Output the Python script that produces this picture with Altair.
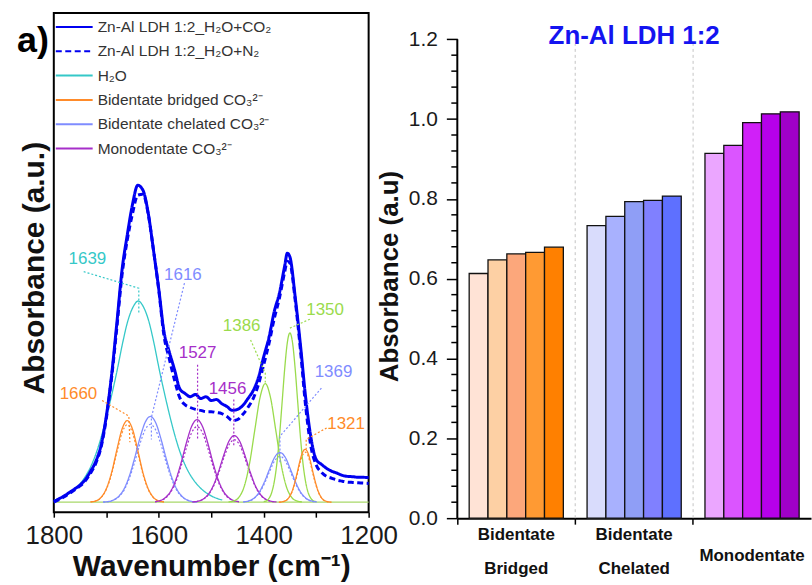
import altair as alt
import pandas as pd

FONT = "Liberation Sans"

# ---------------- Left panel: FTIR spectra ----------------
total_wn = [1800, 1790, 1780, 1770, 1760, 1750, 1740, 1730, 1720, 1710, 1700, 1690, 1680, 1670,
            1660, 1650, 1640, 1630, 1620, 1610, 1600, 1590, 1580, 1570, 1560, 1550, 1540, 1530,
            1520, 1510, 1500, 1490, 1480, 1470, 1460, 1450, 1440, 1430, 1420, 1410, 1400, 1390,
            1380, 1370, 1360, 1355, 1350, 1340, 1330, 1320, 1310, 1300, 1290, 1280, 1270, 1260,
            1250, 1240, 1230, 1220, 1210, 1200]
abs_co2 = [0.003, 0.011, 0.020, 0.031, 0.042, 0.054, 0.071, 0.097, 0.128, 0.178, 0.269, 0.397,
           0.559, 0.728, 0.838, 0.934, 0.994, 0.978, 0.906, 0.790, 0.669, 0.535, 0.472, 0.416,
           0.356, 0.341, 0.331, 0.338, 0.325, 0.331, 0.319, 0.322, 0.309, 0.300, 0.288, 0.291,
           0.303, 0.325, 0.350, 0.391, 0.456, 0.516, 0.597, 0.656, 0.741, 0.781, 0.769, 0.644,
           0.494, 0.328, 0.203, 0.134, 0.119, 0.106, 0.097, 0.091, 0.084, 0.081, 0.080, 0.078,
           0.078, 0.077]
abs_n2 = [0.000, 0.008, 0.017, 0.028, 0.039, 0.051, 0.067, 0.091, 0.122, 0.172, 0.262, 0.388,
          0.545, 0.712, 0.822, 0.905, 0.963, 0.966, 0.903, 0.790, 0.666, 0.522, 0.450, 0.384,
          0.328, 0.306, 0.297, 0.291, 0.288, 0.284, 0.284, 0.281, 0.278, 0.269, 0.256, 0.259,
          0.275, 0.297, 0.325, 0.369, 0.431, 0.497, 0.575, 0.640, 0.722, 0.756, 0.750, 0.634,
          0.478, 0.300, 0.175, 0.117, 0.094, 0.081, 0.075, 0.069, 0.066, 0.063, 0.062, 0.061,
          0.060, 0.059]

# fitted components, H2O+CO2 (solid) -- wavenumber, absorbance
h2o_1639_wn = [1799, 1789, 1779, 1769, 1759, 1749, 1739, 1729, 1719, 1709, 1699, 1689, 1679, 1669,
               1659, 1649, 1639, 1629, 1619, 1609, 1599, 1589, 1579, 1569, 1559, 1549, 1539, 1529,
               1519, 1509, 1499, 1489, 1479]
h2o_1639_a = [0.007, 0.012, 0.019, 0.029, 0.042, 0.060, 0.083, 0.114, 0.155, 0.208, 0.271, 0.341,
              0.416, 0.498, 0.568, 0.612, 0.631, 0.612, 0.568, 0.498, 0.416, 0.341, 0.271, 0.208,
              0.155, 0.114, 0.083, 0.060, 0.042, 0.029, 0.019, 0.012, 0.007]
bb_1660_wn = [1730, 1720, 1710, 1700, 1690, 1680, 1670, 1660, 1650, 1640, 1630, 1620, 1610, 1600, 1590]
bb_1660_a = [0.001, 0.004, 0.015, 0.042, 0.092, 0.163, 0.229, 0.256, 0.229, 0.163, 0.092, 0.042,
             0.015, 0.004, 0.001]
bc_1616_wn = [1706, 1696, 1686, 1676, 1666, 1656, 1646, 1636, 1626, 1616, 1606, 1596, 1586, 1576,
              1566, 1556, 1546, 1536, 1526]
bc_1616_a = [0.001, 0.002, 0.007, 0.019, 0.042, 0.082, 0.138, 0.200, 0.250, 0.269, 0.250, 0.200,
             0.138, 0.082, 0.042, 0.019, 0.007, 0.002, 0.001]
mono_1527_wn = [1607, 1597, 1587, 1577, 1567, 1557, 1547, 1537, 1527, 1517, 1507, 1497, 1487, 1477,
                1467, 1457, 1447]
mono_1527_a = [0.002, 0.005, 0.015, 0.035, 0.072, 0.126, 0.188, 0.239, 0.259, 0.239, 0.188, 0.126,
               0.072, 0.035, 0.015, 0.005, 0.002]
mono_1456_wn = [1536, 1526, 1516, 1506, 1496, 1486, 1476, 1466, 1456, 1446, 1436, 1426, 1416, 1406,
                1396, 1386, 1376]
mono_1456_a = [0.001, 0.003, 0.009, 0.024, 0.052, 0.096, 0.148, 0.192, 0.209, 0.192, 0.148, 0.096,
               0.052, 0.024, 0.009, 0.003, 0.001]
oth_1386_wn = [1467, 1457, 1447, 1437, 1427, 1417, 1407, 1397, 1387, 1377, 1367, 1357, 1347, 1337, 1327]
oth_1386_a = [0.001, 0.004, 0.016, 0.050, 0.121, 0.226, 0.328, 0.372, 0.328, 0.226, 0.121, 0.050,
              0.016, 0.004, 0.001]
oth_1350_wn = [1400, 1395, 1390, 1385, 1380, 1375, 1370, 1365, 1360, 1355, 1350, 1345, 1340, 1335,
               1330, 1325, 1320, 1315, 1310, 1305, 1300]
oth_1350_a = [0.002, 0.004, 0.012, 0.029, 0.063, 0.120, 0.205, 0.311, 0.418, 0.500, 0.531, 0.500,
              0.418, 0.311, 0.205, 0.120, 0.063, 0.029, 0.012, 0.004, 0.002]
bc_1369_wn = [1439, 1429, 1419, 1409, 1399, 1389, 1379, 1369, 1359, 1349, 1339, 1329, 1319, 1309, 1299]
bc_1369_a = [0.001, 0.004, 0.012, 0.030, 0.062, 0.103, 0.141, 0.156, 0.141, 0.103, 0.062, 0.030,
             0.012, 0.004, 0.001]
bb_1321_wn = [1371, 1361, 1356, 1351, 1346, 1341, 1336, 1331, 1326, 1321, 1316, 1311, 1306, 1301,
              1296, 1291, 1286, 1281, 1271]
bb_1321_a = [0.000, 0.003, 0.007, 0.017, 0.034, 0.060, 0.093, 0.129, 0.156, 0.166, 0.156, 0.129,
             0.093, 0.060, 0.034, 0.017, 0.007, 0.003, 0.000]

# fitted components, H2O+N2 (dotted) -- same wavenumbers as above
bb_1660_n2 = [0.001, 0.004, 0.014, 0.040, 0.087, 0.155, 0.217, 0.243, 0.217, 0.155, 0.087, 0.040,
              0.014, 0.004, 0.001]
bc_1616_n2 = [0.000, 0.002, 0.007, 0.017, 0.038, 0.075, 0.125, 0.182, 0.227, 0.244, 0.227, 0.182,
              0.125, 0.075, 0.038, 0.017, 0.007, 0.002, 0.000]
mono_1527_n2 = [0.001, 0.005, 0.013, 0.032, 0.066, 0.115, 0.172, 0.219, 0.237, 0.219, 0.172, 0.115,
                0.066, 0.032, 0.013, 0.005, 0.001]
mono_1456_n2 = [0.001, 0.003, 0.009, 0.022, 0.049, 0.090, 0.139, 0.180, 0.196, 0.180, 0.139, 0.090,
                0.049, 0.022, 0.009, 0.003, 0.001]
bc_1369_n2 = [0.001, 0.003, 0.011, 0.028, 0.057, 0.095, 0.130, 0.144, 0.130, 0.095, 0.057, 0.028,
              0.011, 0.003, 0.001]
bb_1321_n2 = [0.000, 0.003, 0.007, 0.016, 0.032, 0.057, 0.088, 0.122, 0.147, 0.157, 0.147, 0.122,
              0.088, 0.057, 0.032, 0.016, 0.007, 0.003, 0.000]

baseline_wn = [1800, 1200]
baseline_a = [0.0, 0.0]

# peak labels
peak_labels = ["1639", "1616", "1660", "1527", "1456", "1386", "1350", "1369", "1321"]
peak_colors = ["#35C8C8", "#7F8CFF", "#FF8B2A", "#A62FC9", "#A62FC9", "#9ADB4C", "#9ADB4C",
               "#7F8CFF", "#FF8B2A"]
# label anchors (wavenumber, absorbance)
label_wn = [1736, 1554, 1753, 1526, 1469, 1442, 1283, 1267, 1243]
label_a = [0.764, 0.712, 0.339, 0.469, 0.355, 0.552, 0.603, 0.409, 0.245]
# dotted leader lines
leader_wn = [[1743, 1638, 1638], [1551, 1614, 1614], [1708, 1657, 1655], [1526, 1526],
             [1457, 1457], [1425, 1397, 1397], [1312, 1350], [1290, 1369, 1369],
             [1280, 1319, 1319]]
leader_a = [[0.723, 0.671, 0.594], [0.687, 0.266, 0.197], [0.319, 0.270, 0.188], [0.431, 0.197],
            [0.322, 0.172], [0.509, 0.405, 0.375], [0.574, 0.546], [0.358, 0.207, 0.125],
            [0.233, 0.197, 0.166]]

S_CO2 = "Zn-Al LDH 1:2_H₂O+CO₂"
S_N2 = "Zn-Al LDH 1:2_H₂O+N₂"
S_H2O = "H₂O"
S_BB = "Bidentate bridged CO₃²⁻"
S_BC = "Bidentate chelated CO₃²⁻"
S_MONO = "Monodentate CO₃²⁻"
S_OTH = "Other"
series_order = [S_CO2, S_N2, S_H2O, S_BB, S_BC, S_MONO, S_OTH]
series_colors = ["#0000F0", "#0000F0", "#35C8C8", "#FF8B2A", "#7F8CFF", "#A62FC9", "#9ADB4C"]
series_dash = [[1, 0], [6, 3.5], [1, 0], [1, 0], [1, 0], [1, 0], [1, 0]]

components = [
    (S_H2O, "1639", h2o_1639_wn, h2o_1639_a),
    (S_BB, "1660", bb_1660_wn, bb_1660_a),
    (S_BC, "1616", bc_1616_wn, bc_1616_a),
    (S_MONO, "1527", mono_1527_wn, mono_1527_a),
    (S_MONO, "1456", mono_1456_wn, mono_1456_a),
    (S_OTH, "1386", oth_1386_wn, oth_1386_a),
    (S_OTH, "1350", oth_1350_wn, oth_1350_a),
    (S_BC, "1369", bc_1369_wn, bc_1369_a),
    (S_BB, "1321", bb_1321_wn, bb_1321_a),
]
components_n2 = [
    (S_BB, "1660", bb_1660_wn, bb_1660_n2),
    (S_BC, "1616", bc_1616_wn, bc_1616_n2),
    (S_MONO, "1527", mono_1527_wn, mono_1527_n2),
    (S_MONO, "1456", mono_1456_wn, mono_1456_n2),
    (S_BC, "1369", bc_1369_wn, bc_1369_n2),
    (S_BB, "1321", bb_1321_wn, bb_1321_n2),
]

def comp_frame(comps):
    rows = []
    for s, p, ws, vs in comps:
        for w, v in zip(ws, vs):
            rows.append({"series": s, "peak": p, "wn": w, "a": v})
    return pd.DataFrame(rows)

comp_df = comp_frame(components)
comp_n2_df = comp_frame(components_n2)

tot_rows = []
for s, vs in [(S_N2, abs_n2), (S_CO2, abs_co2)]:
    for w, v in zip(total_wn, vs):
        tot_rows.append({"series": s, "peak": s, "wn": w, "a": v})
tot_df = pd.DataFrame(tot_rows)

base_df = pd.DataFrame({"wn": baseline_wn, "a": baseline_a})
lab_df = pd.DataFrame({"label": peak_labels, "col": peak_colors, "wn": label_wn, "a": label_a})
lead_rows = []
for lab, col, ws, vs in zip(peak_labels, peak_colors, leader_wn, leader_a):
    for k, (w, v) in enumerate(zip(ws, vs)):
        lead_rows.append({"label": lab, "col": col, "k": k, "wn": w, "a": v})
lead_df = pd.DataFrame(lead_rows)

x_left = alt.X("wn:Q",
               scale=alt.Scale(domain=[1800, 1200], nice=False, zero=False),
               axis=alt.Axis(values=[1800, 1700, 1600, 1500, 1400, 1300, 1200],
                             labelExpr="datum.value % 200 == 0 ? datum.label : ''",
                             format="d", labelFlush=False, labelOverlap=False,
                             tickSize=5, tickWidth=1.5, tickColor="black", domain=False,
                             grid=False, labelFontSize=26, labelColor="#1a1a1a", labelFont=FONT,
                             labelPadding=5, title="Wavenumber (cm⁻¹)", titleFontSize=30,
                             titleFontWeight="bold", titleColor="#111", titleFont=FONT,
                             titlePadding=4))
y_left = alt.Y("a:Q", scale=alt.Scale(domain=[-0.03125, 1.534], nice=False, zero=False), axis=None)

leg = alt.Legend(title=None, orient="none", legendX=1, legendY=3, values=series_order[:6],
                 symbolType="stroke", symbolSize=1369, symbolStrokeWidth=2,
                 labelFontSize=15.5, labelFont=FONT, labelColor="#333", labelLimit=400,
                 labelOffset=4, clipHeight=22, rowPadding=2.4)
color_enc = alt.Color("series:N", scale=alt.Scale(domain=series_order, range=series_colors), legend=leg)
dash_enc = alt.StrokeDash("series:N", scale=alt.Scale(domain=series_order, range=series_dash), legend=leg)

base_layer = alt.Chart(base_df).mark_line(color="#A8D86A", strokeWidth=1.3).encode(x=x_left, y=y_left)
comp_n2_layer = alt.Chart(comp_n2_df).mark_line(strokeWidth=1.2, strokeDash=[2, 2], interpolate="monotone").encode(
    x=x_left, y=y_left, color=color_enc, detail="peak:N")
comp_layer = alt.Chart(comp_df).mark_line(strokeWidth=1.3, interpolate="monotone").encode(
    x=x_left, y=y_left, color=color_enc, strokeDash=dash_enc, detail="peak:N")
tot_layer = alt.Chart(tot_df).mark_line(strokeWidth=3, interpolate="monotone").encode(
    x=x_left, y=y_left, color=color_enc, strokeDash=dash_enc, detail="peak:N")
lead_layer = alt.Chart(lead_df).mark_line(strokeDash=[2, 2], strokeWidth=1.2).encode(
    x=x_left, y=y_left, stroke=alt.Stroke("col:N", scale=None), detail="label:N", order="k:Q")
lab_layer = alt.Chart(lab_df).mark_text(fontSize=17, font=FONT).encode(
    x=x_left, y=y_left, text="label:N", fill=alt.Fill("col:N", scale=None))
a_layer = alt.Chart(pd.DataFrame({"t": ["a)"]})).mark_text(
    fontSize=36, fontWeight="bold", font=FONT, color="black").encode(
    x=alt.value(-21), y=alt.value(28), text="t:N")
ytitle_layer = alt.Chart(pd.DataFrame({"t": ["Absorbance (a.u.)"]})).mark_text(
    fontSize=30, fontWeight="bold", font=FONT, color="#111", angle=270).encode(
    x=alt.value(-19), y=alt.value(256), text="t:N")

left = alt.layer(base_layer, comp_n2_layer, comp_layer, tot_layer, lead_layer, lab_layer, a_layer,
                 ytitle_layer).properties(
    width=316, height=501, view=alt.ViewBackground(stroke="black", strokeWidth=2))

# ---------------- Right panel: bar chart ----------------
groups = ["Bidentate Bridged", "Bidentate Chelated", "Monodentate"]
bridged_vals = [0.613, 0.647, 0.662, 0.666, 0.679]
chelated_vals = [0.733, 0.756, 0.793, 0.796, 0.807]
mono_vals = [0.914, 0.934, 0.991, 1.013, 1.018]
bridged_colors = ["#FFE3D6", "#FDD0A4", "#FCA77B", "#FF9A33", "#FF8000"]
chelated_colors = ["#D9DCFC", "#A8B1FE", "#8F9EF6", "#8080FF", "#5E70FF"]
mono_colors = ["#EBA6FF", "#DB55FF", "#D020F8", "#B600EA", "#A000C8"]

bar_rows, keys, cols = [], [], []
for g, vals, cl in zip(groups, [bridged_vals, chelated_vals, mono_vals],
                       [bridged_colors, chelated_colors, mono_colors]):
    for i, (v, c) in enumerate(zip(vals, cl)):
        key = f"{g}-{i}"
        bar_rows.append({"group": g, "idx": i, "key": key, "value": v})
        keys.append(key)
        cols.append(c)
bar_df = pd.DataFrame(bar_rows)

minor_vals = [round(i * 0.04, 2) for i in range(31) if i % 5 != 0]
major_vals = [0.0, 0.2, 0.4, 0.6, 0.8, 1.0, 1.2]

x_axis = alt.Axis(title=None, labels=False, bandPosition=0, tickSize=6, tickWidth=1.5,
                  tickColor="black", domainColor="black", domainWidth=2, grid=False)
x_scale = alt.Scale(domain=groups, paddingInner=0, paddingOuter=0)
y_scale = alt.Scale(domain=[0, 1.2656], nice=False, zero=False)
y_axis = alt.Axis(values=major_vals, format=".1f",
                  tickSize=11, tickWidth=1.5, tickColor="black", domain=False, grid=False,
                  labelOverlap=False, labelFlush=False, labelFontSize=21, labelColor="#1a1a1a",
                  labelFont=FONT, labelPadding=9, title="Absorbance (a.u)", titleFontSize=26,
                  titleFontWeight="bold", titleColor="#111", titleFont=FONT, titlePadding=6,
                  titleY=264)

bars = alt.Chart(bar_df).mark_bar(stroke="#111", strokeWidth=1.3).encode(
    x=alt.X("group:N", scale=x_scale, axis=x_axis),
    xOffset=alt.XOffset("idx:O", scale=alt.Scale(paddingInner=0, paddingOuter=0.63)),
    y=alt.Y("value:Q", scale=y_scale, axis=y_axis),
    color=alt.Color("key:N", scale=alt.Scale(domain=keys, range=cols), legend=None))

sep = alt.Chart(pd.DataFrame({"group": groups[1:]})).mark_rule(
    strokeDash=[3, 3], color="#C4C4C4", strokeWidth=1).encode(
    x=alt.X("group:N", bandPosition=0, scale=x_scale, axis=x_axis),
    y=alt.datum(0), y2=alt.datum(1.188))

minor = alt.Chart(pd.DataFrame({"value": minor_vals})).mark_rule(color="black", strokeWidth=1.5).encode(
    y=alt.Y("value:Q", scale=y_scale, axis=y_axis), x=alt.value(-6), x2=alt.value(0))
yline = alt.Chart(pd.DataFrame({"value": [0.0]})).mark_rule(color="black", strokeWidth=2).encode(
    x=alt.value(0), y=alt.datum(0), y2=alt.datum(1.2))

cat_line1 = ["Bidentate", "Bidentate", ""]
cat_line2 = ["Bridged", "Chelated", ""]
cat_single = ["", "", "Monodentate"]
def cat_text(texts, ypix):
    return alt.Chart(pd.DataFrame({"group": groups, "t": texts})).mark_text(
        fontSize=17, fontWeight="bold", font=FONT, color="#111").encode(
        x=alt.X("group:N", scale=x_scale, axis=x_axis), y=alt.value(ypix), text="t:N")

title_txt = alt.Chart(pd.DataFrame({"t": ["Zn-Al LDH 1:2"]})).mark_text(
    fontSize=26, fontWeight="bold", font=FONT, color="#1414F0").encode(
    x=alt.datum(groups[1]), y=alt.value(23), text="t:N")

right = alt.layer(sep, bars, minor, yline, cat_text(cat_line1, 524), cat_text(cat_line2, 558),
                  cat_text(cat_single, 545), title_txt).properties(width=355, height=507)

chart = alt.hconcat(left, right, spacing=89, bounds="flush").resolve_scale(
    color="independent", strokeDash="independent").properties(
    padding={"left": 15, "top": 11, "right": 0, "bottom": 0}
).configure(font=FONT).configure_view(stroke="transparent")

chart.save("out.html", embed_options={"renderer": "svg", "actions": False})
